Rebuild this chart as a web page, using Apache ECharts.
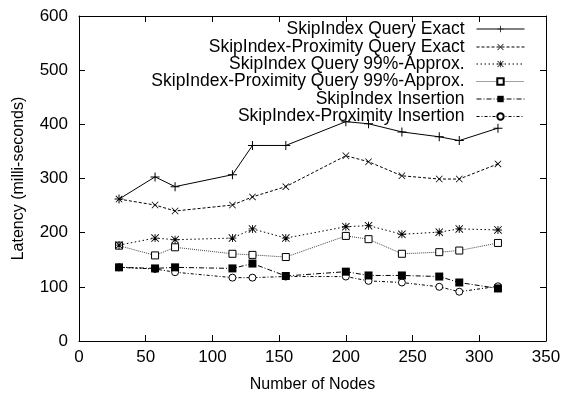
<!DOCTYPE html>
<html><head><meta charset="utf-8">
<script src="https://cdn.jsdelivr.net/npm/echarts@6/dist/echarts.min.js"></script>
<style>html,body{margin:0;padding:0;background:#fff}#c{width:564px;height:398px}</style>
</head><body><div id="c"></div>
<script>
var nodes = [30, 57, 72, 115, 130, 155, 200, 217, 242, 270, 285, 314];
var seriesNames = [
  'SkipIndex Query Exact',
  'SkipIndex-Proximity Query Exact',
  'SkipIndex Query 99%-Approx.',
  'SkipIndex-Proximity Query 99%-Approx.',
  'SkipIndex Insertion',
  'SkipIndex-Proximity Insertion'
];
var queryExact      = [262, 303, 285, 307, 361, 361, 405, 401, 386, 377, 370, 393];
var proxQueryExact  = [262, 251, 240, 251, 266, 285, 342, 331, 305, 299, 299, 327];
var queryApprox     = [177, 190, 187, 190, 207, 190, 211, 213, 197, 201, 207, 205];
var proxQueryApprox = [176, 158, 173, 161, 159, 155, 194, 188, 161, 164, 167, 181];
var insertion       = [136, 134, 136, 134, 143, 120, 128, 121, 121, 119, 108, 97];
var proxInsertion   = [136, 133, 127, 117, 117, 119, 119, 111, 108, 100, 91, 101];
var xTicks = [0, 50, 100, 150, 200, 250, 300, 350];
var yTicks = [0, 100, 200, 300, 400, 500, 600];

var allValues = [queryExact, proxQueryExact, queryApprox, proxQueryApprox, insertion, proxInsertion];

var plusPath = 'path://M4,0H5V4H9V5H5V9H4V5H0V4H4Z';
var xPath = 'path://M0,0.7L0.7,0L4.5,3.8L8.3,0L9,0.7L5.2,4.5L9,8.3L8.3,9L4.5,5.2L0.7,9L0,8.3L3.8,4.5Z';
var starPath = 'path://M4,0H5V4H9V5H5V9H4V5H0V4H4ZM0,0.7L0.7,0L4.5,3.8L8.3,0L9,0.7L5.2,4.5L9,8.3L8.3,9L4.5,5.2L0.7,9L0,8.3L3.8,4.5Z';

var styles = [
  {symbol: plusPath, size: 9, dash: 'solid', item: {color: '#000'}, lc: '#000'},
  {symbol: xPath, size: 7, dash: [3, 2], item: {color: '#000'}, lc: '#000'},
  {symbol: starPath, size: 8, dash: [1.5, 2.5], item: {color: '#000'}, lc: '#000'},
  {symbol: 'rect', size: 7, dash: [1, 1], item: {color: '#fff', borderColor: '#000', borderWidth: 1}, lc: '#444'},
  {symbol: 'rect', size: 8, dash: [5, 2, 1, 2], item: {color: '#000'}, lc: '#000'},
  {symbol: 'circle', size: 7, dash: [3, 2, 1, 2], item: {color: '#fff', borderColor: '#000', borderWidth: 1}, lc: '#000'}
];

var series = [];
var legends = [];
var rowCenters = [30, 48, 65, 82.5, 100, 117.5];
for (var i = 0; i < seriesNames.length; i++) {
  var s = styles[i];
  series.push({
    name: seriesNames[i],
    type: 'line',
    data: nodes.map(function (x, j) { return [x, allValues[i][j]]; }),
    symbol: s.symbol,
    symbolSize: s.size,
    showAllSymbol: true,
    itemStyle: s.item,
    lineStyle: {color: s.lc, width: 1, type: s.dash},
    emphasis: {disabled: true},
    animation: false,
    z: 10 - i
  });
  legends.push({
    data: [seriesNames[i]],
    right: 39,
    top: rowCenters[i] - 10,
    align: 'right',
    itemWidth: 48,
    itemHeight: 8,
    padding: 0,
    selectedMode: false,
    lineStyle: {width: 1},
    textStyle: {fontFamily: 'Liberation Sans', fontSize: 17.5, color: '#000', padding: [0, 7, 0, 0]}
  });
}

var chart = echarts.init(document.getElementById('c'), null, {renderer: 'canvas'});
var axisCommon = {
  axisLine: {show: true, onZero: false, lineStyle: {color: '#000', width: 1}},
  axisTick: {show: true, inside: true, length: 6, lineStyle: {color: '#000'}},
  splitLine: {show: false}
};
chart.setOption({
  animation: false,
  backgroundColor: '#fff',
  grid: {left: 79, right: 18, top: 16, bottom: 53, containLabel: false},
  legend: legends,
  xAxis: [
    Object.assign({
      type: 'value', min: 0, max: 350, interval: 50, position: 'bottom',
      name: 'Number of Nodes', nameLocation: 'middle', nameGap: 36,
      nameTextStyle: {fontFamily: 'Liberation Sans', fontSize: 16, color: '#000'},
      axisLabel: {fontFamily: 'Liberation Sans', fontSize: 17, color: '#000', margin: 8}
    }, axisCommon),
    Object.assign({
      type: 'value', min: 0, max: 350, interval: 50, position: 'top',
      axisLabel: {show: false}
    }, axisCommon)
  ],
  yAxis: [
    Object.assign({
      type: 'value', min: 0, max: 600, interval: 100, position: 'left',
      name: 'Latency (milli-seconds)', nameLocation: 'middle', nameGap: 52, nameRotate: 90,
      nameTextStyle: {fontFamily: 'Liberation Sans', fontSize: 16, color: '#000'},
      axisLabel: {fontFamily: 'Liberation Sans', fontSize: 17, color: '#000', margin: 11}
    }, axisCommon),
    Object.assign({
      type: 'value', min: 0, max: 600, interval: 100, position: 'right',
      axisLabel: {show: false}
    }, axisCommon)
  ],
  series: series
});
</script></body></html>
